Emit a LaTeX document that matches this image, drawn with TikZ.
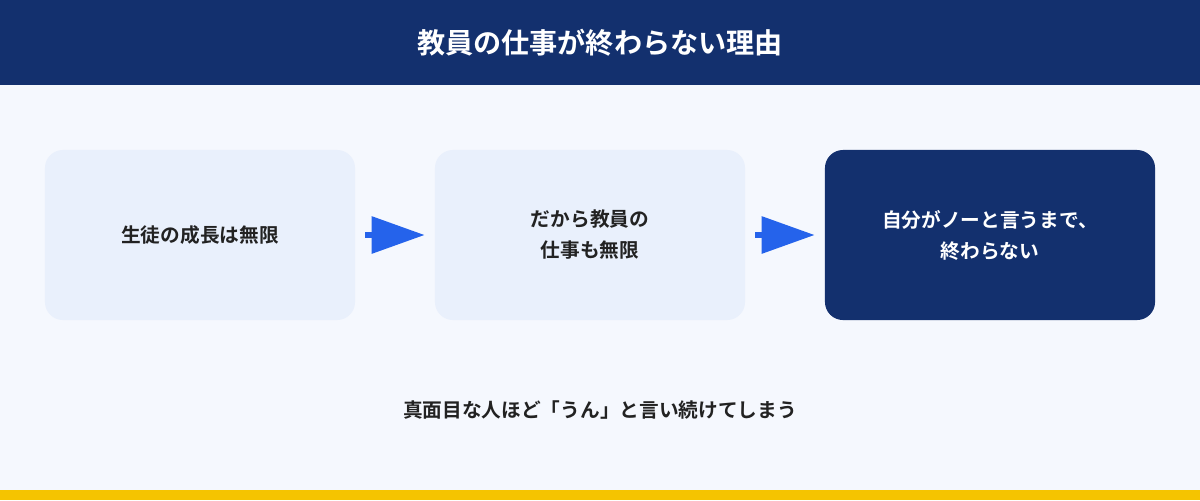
\documentclass[tikz,border=0pt]{standalone}
\usepackage{fontspec}
\setmainfont{Noto Sans CJK JP}[BoldFont={Noto Sans CJK JP Bold}]
\usetikzlibrary{arrows.meta}
\definecolor{navy}{HTML}{13306E}
\definecolor{paleblue}{HTML}{E9F0FC}
\definecolor{bgblue}{HTML}{F5F8FE}
\definecolor{arrowblue}{HTML}{2563EB}
\definecolor{baryellow}{HTML}{F5C400}
\definecolor{textdark}{HTML}{222222}
\tikzset{
  stagebox/.style={rounded corners=0.45cm,minimum width=7.75cm,minimum height=4.25cm,
    align=center,font=\bfseries\fontsize{14}{22}\selectfont,text=textdark,fill=paleblue},
  laststage/.style={stagebox,minimum width=8.25cm,fill=navy,text=white},
  flow/.style={arrowblue,line width=0.15cm,-{Triangle[length=1.325cm,width=0.9cm]}}
}
\begin{document}
\begin{tikzpicture}[x=0.025cm,y=-0.025cm]
    \fill[bgblue] (0,0) rectangle (1200,500);
    \fill[navy] (0,0) rectangle (1200,85);
    \fill[baryellow] (0,490) rectangle (1200,500);
    \node[text=white,font=\bfseries\fontsize{20}{24}\selectfont] (title) at (600,43) {教員の仕事が終わらない理由};
    \node[stagebox] (growth) at (200,235) {生徒の成長は無限};
    \node[stagebox] (work) at (590,235) {だから教員の\\仕事も無限};
    \node[laststage] (refuse) at (990,235) {自分がノーと言うまで、\\終わらない};
    \draw[flow] ([xshift=0.25cm]growth.east) -- ([xshift=-0.25cm]work.west);
    \draw[flow] ([xshift=0.25cm]work.east) -- ([xshift=-0.25cm]refuse.west);
    \node[text=textdark,font=\bfseries\fontsize{14}{18}\selectfont] (note) at (600,410) {真面目な人ほど「うん」と言い続けてしまう};
\end{tikzpicture}
\end{document}
